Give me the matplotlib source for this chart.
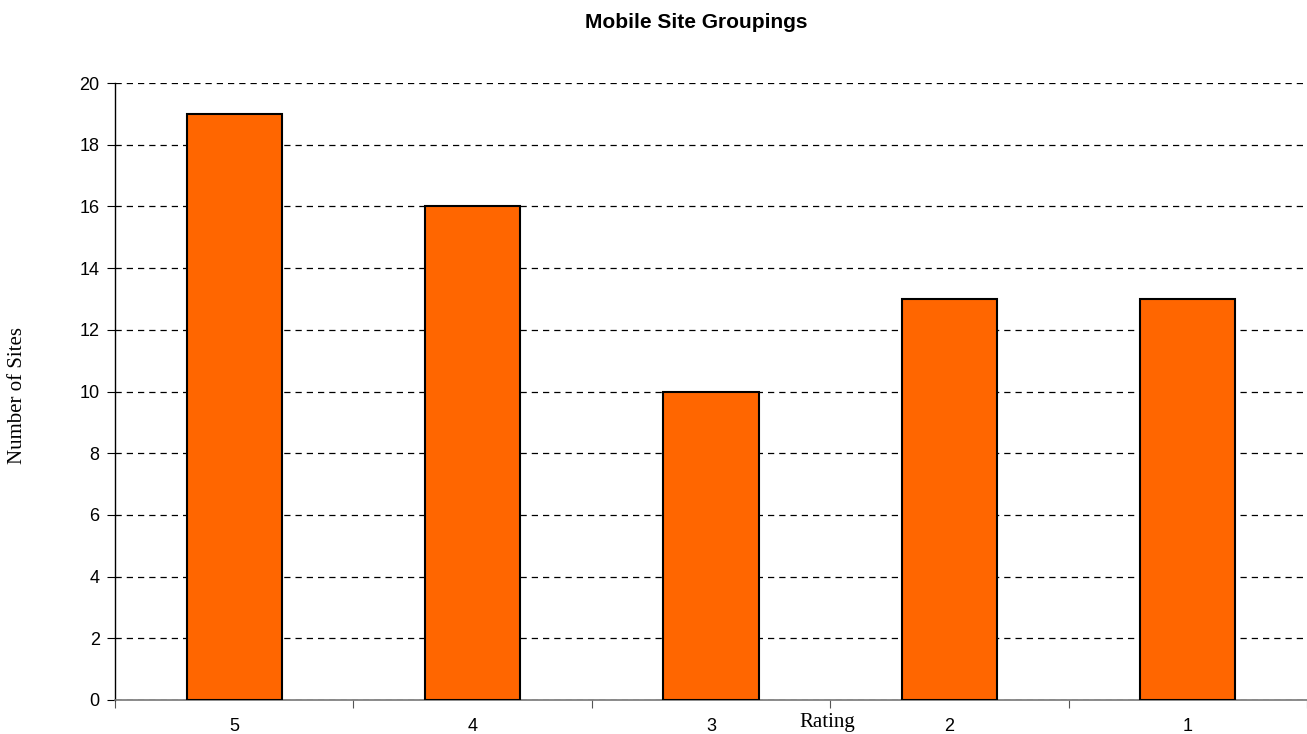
import matplotlib.pyplot as plt
import numpy as np

# data
ratings = ['5', '4', '3', '2', '1']
sites = [19, 16, 10, 13, 13]
y_ticks = [0, 2, 4, 6, 8, 10, 12, 14, 16, 18, 20]

fig = plt.figure(figsize=(13.07, 7.34), dpi=100)
ax = fig.add_axes([115 / 1307, 1 - 700 / 734, 1 - 115 / 1307, (700 - 83) / 734])

x = np.arange(len(ratings))
ax.bar(x, sites, width=0.40, color='#ff6600', edgecolor='black', linewidth=1.5, zorder=3)

ax.set_xlim(-0.5, len(ratings) - 0.5)
ax.set_ylim(0, 20)
ax.set_yticks(y_ticks)
ax.set_yticklabels([str(v) for v in y_ticks], fontsize=13, family='Liberation Sans')
ax.yaxis.grid(True, linestyle=(0, (5, 4)), color='black', linewidth=0.9, zorder=0)

# category labels in the middle, ticks on the boundaries
ax.set_xticks(np.arange(len(ratings) + 1) - 0.5)
ax.set_xticklabels([])
ax.set_xticks(x, minor=True)
ax.set_xticklabels(ratings, minor=True, fontsize=13, family='Liberation Sans')
ax.tick_params(axis='x', which='minor', length=0, pad=13)
ax.tick_params(axis='x', which='major', length=6, direction='out', color='#555555')
ax.tick_params(axis='y', length=6, direction='out', pad=5)

for s in ['top', 'right']:
    ax.spines[s].set_visible(False)
ax.spines['bottom'].set_color('#777777')
ax.spines['bottom'].set_linewidth(1.2)
ax.spines['left'].set_linewidth(1.0)

fig.text(696 / 1307, 1 - 23 / 734, 'Mobile Site Groupings', ha='center', va='center',
         fontsize=15, fontweight='bold', family='Liberation Sans')
fig.text(827 / 1307, 1 - 722 / 734, 'Rating', ha='center', va='center',
         fontsize=15, family='Liberation Serif')
fig.text(18 / 1307, 1 - 395 / 734, 'Number of Sites', ha='center', va='center',
         rotation=90, fontsize=15, family='Liberation Serif')

fig.savefig('out.png', dpi=100)
